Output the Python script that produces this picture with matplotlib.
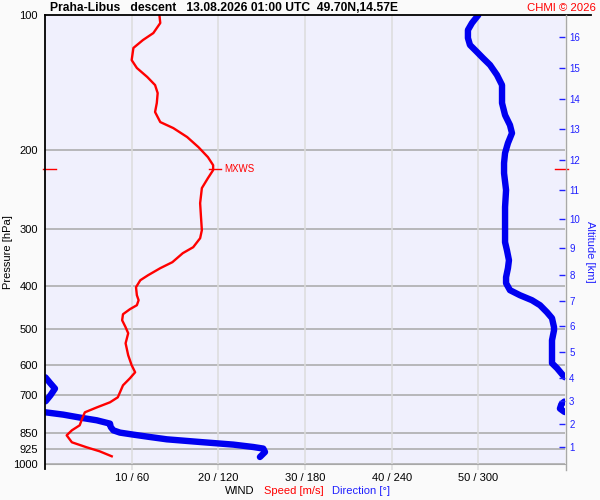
import matplotlib
matplotlib.use('Agg')
import matplotlib.pyplot as plt
from matplotlib.lines import Line2D
from matplotlib.ticker import NullLocator, FixedLocator
import numpy as np

plt.rcParams['font.family'] = ['Liberation Sans', 'DejaVu Sans']

# wind speed profile [hPa, m/s]
speed_p = [100, 104.2, 109.7, 113.7, 118.4, 126.0, 131.2, 137.4, 143.2, 149.2,
           157.0, 164.4, 173.1, 178.5, 186.9, 196.8, 207.2, 215.9, 221.4, 230.7,
           242.8, 262.3, 281.8, 301.2, 313.9, 328.7, 338.9, 354.9, 366.0, 379.4,
           389.3, 403.5, 420.4, 431.3, 442.5, 451.6, 463.4, 477.9, 495.4, 510.9,
           537.8, 571.9, 601.9, 624.0, 643.5, 667.1, 709.4, 727.8, 746.8, 766.1,
           790.1, 818.9, 840.2, 862.0, 893.3, 916.5, 935.5, 959.8]
speed = [13.2, 13.3, 12.5, 11.3, 10.2, 10.0, 10.6, 11.8, 12.7, 13.0,
         12.9, 12.7, 13.3, 14.8, 16.4, 17.7, 18.8, 19.4, 19.4, 18.8,
         18.1, 17.9, 18.0, 18.1, 17.9, 17.1, 15.9, 14.7, 13.3, 11.9,
         11.0, 10.5, 10.6, 10.8, 10.6, 9.8, 9.0, 8.9, 9.3, 9.6,
         9.3, 9.6, 10.0, 10.4, 9.8, 9.0, 8.4, 7.5, 6.0, 4.6,
         4.3, 4.0, 3.1, 2.5, 3.1, 4.8, 6.3, 7.7]

# wind direction profile [hPa, deg]
dir_p = [100, 104.2, 108.0, 112.5, 116.6, 120.9, 124.7, 129.2, 136.0, 143.2,
         149.2, 157.0, 167.0, 175.8, 183.2, 192.8, 202.9, 213.6, 224.9, 245.3,
         267.7, 301.2, 320.4, 333.8, 351.4, 366.0, 383.3, 395.3, 409.7, 420.4,
         431.3, 442.5, 458.7, 472.9, 495.4, 503.1, 529.6, 595.7, 611.1, 633.7,
         640.0, 640.5, 659.0, 678.4, 702.0, 724.0, 725.0, 735.0, 751.6, 760.0,
         765.0, 766.0, 775.3, 787.1, 798.1, 811.9, 826.0, 840.2, 850.1, 858.9,
         869.5, 879.8, 892.0, 904.0, 915.2, 922.6, 938.9, 963.2]
direction = [300.0, 295.6, 292.8, 292.8, 294.2, 299.1, 303.2, 308.1, 312.9, 316.4,
             316.4, 316.4, 318.5, 321.9, 323.3, 320.5, 318.5, 317.8, 317.8, 319.2,
             318.5, 318.5, 318.5, 319.8, 321.2, 320.5, 319.2, 319.2, 321.9, 328.8,
             337.1, 342.7, 347.5, 351.0, 352.4, 352.4, 351.0, 351.0, 354.5, 358.6,
             359.9, 0.3, 3.5, 6.9, 3.8, 0.4, 359.6, 357.5, 356.5, 358.5,
             359.8, 0.2, 12.7, 24.2, 35.8, 45.0, 45.5, 47.3, 51.9, 61.1,
             72.7, 84.3, 107.3, 130.4, 144.2, 151.1, 152.3, 148.8]

# altitude ticks [km] at pressure [hPa]
alt_km = list(range(1, 17))
alt_p = [916.5, 811.9, 722.8, 641.2, 562.2, 492.6, 433.6, 379.4,
         330.8, 284.7, 245.3, 210.1, 179.8, 153.9, 131.4, 112.1]

p_ticks = [100, 200, 300, 400, 500, 600, 700, 850, 925, 1000]
x_ticks = [10, 20, 30, 40, 50]
x_labels = ['10 / 60', '20 / 120', '30 / 180', '40 / 240', '50 / 300']

mxws_p = 220.3
mxws_speed = 19.6

W, H = 600, 500
fig = plt.figure(figsize=(6, 5), dpi=100, facecolor='#fafafa')
ax = fig.add_axes([45 / W, 1 - 464.3 / H, 520 / W, 449.3 / H])
ax.set_facecolor('#f0f0fd')

ax.set_yscale('log')
ax.set_ylim(1000, 100)
ax.set_xlim(0, 60)

# grid
for p in p_ticks[1:]:
    ax.axhline(p, color='#a8a8a8', lw=1.1, zorder=1)
for x in x_ticks:
    ax.axvline(x, color='#dcdcdc', lw=1.1, zorder=1)

# speed (m/s) and direction (deg -> same axis, 360 deg = 60 m/s)
ax.plot(speed, speed_p, color='red', lw=1.7, zorder=3)

d = np.array(direction, dtype=float) / 6.0
pp = np.array(dir_p, dtype=float)
jumps = np.where(np.abs(np.diff(d)) > 30)[0] + 1
d = np.insert(d, jumps, np.nan)
pp = np.insert(pp, jumps, np.nan)
ax.plot(d, pp, color='#0000f0', lw=4.6, solid_capstyle='round', zorder=2)

# MXWS marks
ax.plot([mxws_speed - 0.7, mxws_speed + 0.7], [mxws_p, mxws_p], color='red', lw=1, zorder=4)
ax.text(mxws_speed + 1.05, mxws_p, 'MXWS', color='red', fontsize=7, va='center')
ax.plot([-0.25, 1.25], [mxws_p, mxws_p], color='red', lw=1, clip_on=False, zorder=4)
ax.plot([58.8, 60.3], [mxws_p, mxws_p], color='red', lw=1, clip_on=False, zorder=4)

ax.yaxis.set_major_locator(FixedLocator(p_ticks))
ax.yaxis.set_minor_locator(NullLocator())
ax.set_yticklabels([str(p) for p in p_ticks])
ax.tick_params(axis='y', length=0, pad=5, labelsize=8)
ax.set_xticks(x_ticks)
ax.set_xticklabels(x_labels)
ax.tick_params(axis='x', length=4.3, color='#dcdcdc', width=1.1, pad=2, labelsize=8)

for s in ['top', 'right', 'left']:
    ax.spines[s].set_visible(False)
ax.spines['bottom'].set_color('#a8a8a8')

# altitude axis
ax2 = ax.twinx()
ax2.set_yscale('log')
ax2.set_ylim(1000, 100)
ax2.yaxis.set_major_locator(FixedLocator(alt_p))
ax2.yaxis.set_minor_locator(NullLocator())
ax2.set_yticklabels([str(k) for k in alt_km])
ax2.tick_params(axis='y', direction='in', length=4.3, width=1, color='#2020ff',
                labelcolor='#2020ff', labelsize=7, pad=3)
for s in ['top', 'right', 'left', 'bottom']:
    ax2.spines[s].set_visible(False)

# frame lines
fig.add_artist(Line2D([45 / W, 591 / W], [1 - 15 / H, 1 - 15 / H], color='black', lw=1.3))
fig.add_artist(Line2D([45 / W, 45 / W], [1 - 15 / H, 1 - 469 / H], color='black', lw=1.3))
fig.add_artist(Line2D([565.5 / W, 565.5 / W], [1 - 15 / H, 1 - 470 / H], color='#a8a8a8', lw=1))

# texts
fig.text(50 / W, 1 - 8 / H, 'Praha-Libus   descent   13.08.2026 01:00 UTC  49.70N,14.57E',
         fontsize=8.7, fontweight='bold', va='center', ha='left')
fig.text(596 / W, 1 - 8 / H, 'CHMI \u00a9 2026', color='red', fontsize=8.2, va='center', ha='right')
fig.text(8 / W, 1 - 252 / H, 'Pressure [hPa]', rotation=90, fontsize=8, va='center', ha='center')
fig.text(590 / W, 1 - 252 / H, 'Altitude [km]', rotation=270, fontsize=8, va='center', ha='center',
         color='#2020ff')
fig.text(225 / W, 1 - 491 / H, 'WIND', fontsize=8, va='center', ha='left')
fig.text(264 / W, 1 - 491 / H, 'Speed [m/s]', fontsize=8, va='center', ha='left', color='red')
fig.text(332 / W, 1 - 491 / H, 'Direction [\u00b0]', fontsize=8, va='center', ha='left', color='#2020ff')

fig.savefig('out.png', dpi=100, facecolor=fig.get_facecolor())
